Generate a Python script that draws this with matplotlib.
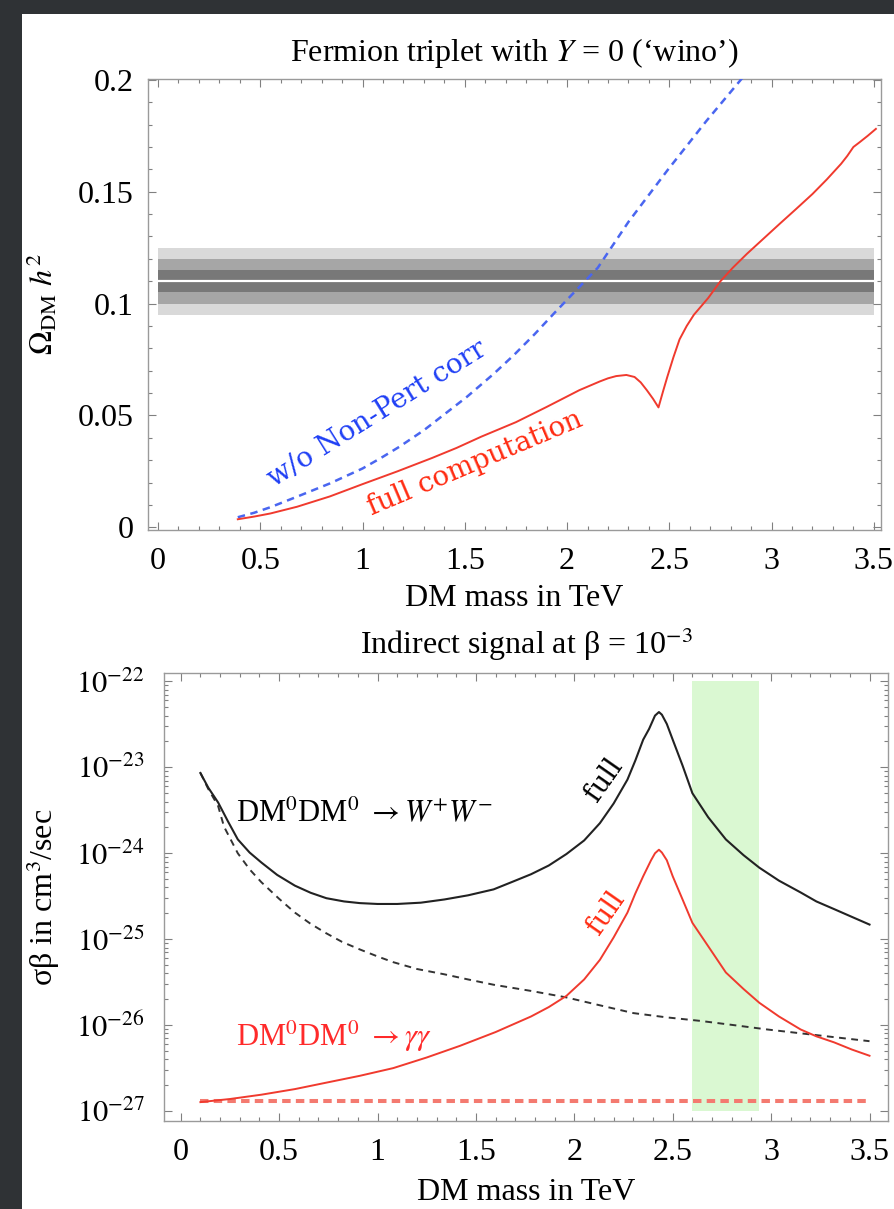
import numpy as np
import matplotlib
matplotlib.use("Agg")
import matplotlib.pyplot as plt
from matplotlib.ticker import FixedLocator, FuncFormatter
from matplotlib.patches import Rectangle

plt.rcParams['font.family'] = ['Liberation Serif', 'DejaVu Serif']
plt.rcParams['mathtext.fontset'] = 'stix'

# ---- top panel: relic abundance ----
blue_mass = [0.39, 0.47, 0.55, 0.68, 0.84, 1.0, 1.09, 1.18, 1.30, 1.40, 1.51, 1.64, 1.74, 1.84,
             1.94, 2.05, 2.15, 2.30, 2.49, 2.68, 2.86]
blue_omega = [0.0045, 0.0065, 0.0090, 0.0137, 0.0196, 0.0263, 0.0310, 0.0360, 0.0434, 0.0505,
              0.0583, 0.0685, 0.0770, 0.0862, 0.0960, 0.1065, 0.1160, 0.1365, 0.1595, 0.1815, 0.2012]

red_mass = [0.39, 0.47, 0.55, 0.68, 0.84, 1.0, 1.17, 1.34, 1.46, 1.58, 1.75, 1.9, 2.06, 2.16, 2.20,
            2.24, 2.29, 2.33, 2.36, 2.39, 2.42, 2.447, 2.47, 2.49, 2.52, 2.55, 2.585, 2.62, 2.69,
            2.75, 2.81, 2.88, 2.96, 3.04, 3.12, 3.2, 3.27, 3.34, 3.37, 3.40, 3.43, 3.47, 3.51]
red_omega = [0.0036, 0.0048, 0.0062, 0.0092, 0.0138, 0.0193, 0.0250, 0.0310, 0.0355, 0.0405,
             0.0470, 0.0538, 0.0613, 0.0652, 0.0666, 0.0676, 0.0681, 0.0672, 0.0648, 0.0613,
             0.0575, 0.0536, 0.0610, 0.0672, 0.0760, 0.0840, 0.0900, 0.0950, 0.1025, 0.1100,
             0.1160, 0.1223, 0.1290, 0.1357, 0.1423, 0.1490, 0.1555, 0.1625, 0.1660, 0.1700,
             0.1721, 0.1750, 0.1781]

omega_central = 0.110
omega_sigma = 0.005
band_range = [0.0, 3.5]

top_xticks = [0, 0.5, 1, 1.5, 2, 2.5, 3, 3.5]
top_yticks = [0, 0.05, 0.1, 0.15, 0.2]

# ---- bottom panel: indirect signal (cm^3/sec) ----
ww_mass = [0.10, 0.14, 0.19, 0.24, 0.29, 0.35, 0.41, 0.49, 0.58, 0.66, 0.74, 0.83, 0.91, 1.0,
           1.10, 1.22, 1.34, 1.46, 1.59, 1.68, 1.78, 1.87, 1.96, 2.05, 2.13, 2.20, 2.27, 2.31,
           2.35, 2.38, 2.41, 2.43, 2.445, 2.47, 2.50, 2.55, 2.60, 2.68, 2.77, 2.86, 2.94, 3.04,
           3.15, 3.23, 3.32, 3.41, 3.50]
ww_full = [8.6e-24, 5.8e-24, 3.9e-24, 2.35e-24, 1.45e-24, 1.02e-24, 7.8e-25, 5.6e-25, 4.2e-25,
           3.47e-25, 3.0e-25, 2.75e-25, 2.63e-25, 2.57e-25, 2.57e-25, 2.66e-25, 2.9e-25, 3.24e-25,
           3.8e-25, 4.6e-25, 5.7e-25, 7.2e-25, 9.8e-25, 1.41e-24, 2.24e-24, 3.8e-24, 7.2e-24,
           1.2e-23, 2.1e-23, 2.8e-23, 4.0e-23, 4.4e-23, 4.1e-23, 3.2e-23, 2.1e-23, 1.05e-23,
           5.0e-24, 2.63e-24, 1.45e-24, 9.5e-25, 6.8e-25, 4.8e-25, 3.5e-25, 2.75e-25, 2.24e-25,
           1.82e-25, 1.48e-25]

ww_pert_mass = [0.10, 0.14, 0.19, 0.22, 0.29, 0.35, 0.41, 0.50, 0.58, 0.66, 0.74, 0.82, 0.91,
                1.0, 1.08, 1.2, 1.34, 1.46, 1.59, 1.78, 1.96, 2.13, 2.30, 2.47, 2.64, 2.81, 2.98,
                3.24, 3.50]
ww_pert = [8.6e-24, 5.6e-24, 3.55e-24, 2.04e-24, 1.0e-24, 6.5e-25, 4.6e-25, 2.95e-25, 2.04e-25,
           1.51e-25, 1.17e-25, 9.3e-26, 7.6e-26, 6.3e-26, 5.4e-26, 4.5e-26, 3.9e-26, 3.4e-26,
           2.95e-26, 2.5e-26, 2.1e-26, 1.7e-26, 1.38e-26, 1.23e-26, 1.12e-26, 1.0e-26, 8.9e-27,
           7.6e-27, 6.5e-27]

gg_mass = [0.10, 0.25, 0.41, 0.58, 0.74, 0.91, 1.08, 1.25, 1.42, 1.60, 1.78, 1.87, 1.96, 2.05,
           2.13, 2.20, 2.27, 2.31, 2.35, 2.39, 2.41, 2.43, 2.445, 2.47, 2.50, 2.55, 2.60, 2.68,
           2.77, 2.86, 2.94, 3.04, 3.15, 3.23, 3.32, 3.41, 3.50]
gg_full = [1.27e-27, 1.38e-27, 1.55e-27, 1.8e-27, 2.14e-27, 2.57e-27, 3.16e-27, 4.2e-27, 5.75e-27,
           8.3e-27, 1.26e-26, 1.62e-26, 2.19e-26, 3.4e-26, 5.75e-26, 1.05e-25, 2.04e-25,
           3.4e-25, 5.4e-25, 8.3e-25, 1.0e-24, 1.1e-24, 1.02e-24, 8.3e-25, 5.4e-25, 2.9e-25,
           1.55e-25, 8.3e-26, 4.1e-26, 2.63e-26, 1.82e-26, 1.26e-26, 8.9e-27, 7.4e-27, 6.3e-27,
           5.2e-27, 4.4e-27]

gg_pert_mass = [0.10, 3.50]
gg_pert = [1.3e-27, 1.3e-27]

green_mass = [2.60, 2.94]
green_lo, green_hi = 1e-27, 1e-22

bottom_decades = [-27, -26, -25, -24, -23, -22]

W, H = 894, 1209
fig = plt.figure(figsize=(W / 100, H / 100), dpi=100, facecolor='#2f3235')
fig.add_artist(Rectangle((22 / W, 0), 1, 1 - 14 / H, transform=fig.transFigure,
                         facecolor='white', edgecolor='none', zorder=-5))

spine_col = '#9a9a9a'


def style_axes(ax):
    for s in ax.spines.values():
        s.set_color(spine_col)
        s.set_linewidth(1.0)
    ax.tick_params(which='both', direction='in', top=True, right=True, color='#808080',
                   labelsize=23, width=0.8)
    ax.tick_params(which='major', length=6)
    ax.tick_params(which='minor', length=3)


fmt = FuncFormatter(lambda v, p: '%g' % round(v, 3))

# top axes
ax1 = fig.add_axes([148 / W, 1 - 530 / H, (881 - 148) / W, (530 - 79) / H])
for k, c in zip([3, 2, 1], ['#d9d9d9', '#a6a6a6', '#787878']):
    ax1.fill_between(band_range, omega_central - k * omega_sigma, omega_central + k * omega_sigma,
                     color=c, lw=0, zorder=1)
ax1.plot(band_range, [omega_central, omega_central], color='white', lw=1.6, zorder=2)
ax1.plot(blue_mass, blue_omega, color='#4a66f0', lw=1.8, dashes=(3, 2.2), zorder=3)
ax1.plot(red_mass, red_omega, color='#f03a2e', lw=1.4, zorder=4)
ax1.set_xlim(-0.049, 3.535)
ax1.set_ylim(-0.0012, 0.2004)
style_axes(ax1)
ax1.tick_params(axis='x', pad=12)
ax1.tick_params(axis='y', pad=10)
ax1.xaxis.set_major_locator(FixedLocator(top_xticks))
ax1.xaxis.set_minor_locator(FixedLocator(np.arange(0, 36) / 10))
ax1.yaxis.set_major_locator(FixedLocator(top_yticks))
ax1.yaxis.set_minor_locator(FixedLocator(np.arange(0, 21) / 100))
ax1.xaxis.set_major_formatter(fmt)
ax1.yaxis.set_major_formatter(fmt)
ax1.set_title("Fermion triplet with $Y$ = 0 (\u2018wino\u2019)", fontsize=23, pad=13)
ax1.set_xlabel('DM mass in TeV', fontsize=23, labelpad=6)
ax1.set_ylabel(r'$\Omega_{\rm DM}\ h^2$', fontsize=23)
ax1.yaxis.set_label_coords(-0.12, 0.5)
ax1.text(1.073, 0.0506, 'w/o Non-Pert corr', color='#1f3ff5', fontsize=20, family='DejaVu Serif',
         rotation=32, ha='center', va='center', rotation_mode='anchor', zorder=5)
ax1.text(1.548, 0.0285, 'full computation', color='#ff2a10', fontsize=20, family='DejaVu Serif',
         rotation=23, ha='center', va='center', rotation_mode='anchor', zorder=5)

# bottom axes
ax2 = fig.add_axes([164 / W, 1 - 1121 / H, (888 - 164) / W, (1121 - 673) / H])
ax2.set_yscale('log')
ax2.fill_between(green_mass, green_lo, green_hi, color='#daf8d2', lw=0, zorder=1)
ax2.plot(gg_pert_mass, gg_pert, color='#f47a70', lw=2.9, dashes=(2.1, 1.3), zorder=2)
ax2.plot(ww_pert_mass, ww_pert, color='#333333', lw=1.4, dashes=(3.5, 2.8), zorder=3)
ax2.plot(ww_mass, ww_full, color='#222222', lw=1.5, zorder=4)
ax2.plot(gg_mass, gg_full, color='#f03a2e', lw=1.4, zorder=4)
ax2.set_xlim(-0.085, 3.594)
ax2.set_ylim(10 ** -27.116, 10 ** -21.902)
style_axes(ax2)
ax2.tick_params(axis='x', pad=12)
ax2.tick_params(axis='y', pad=14, labelsize=22)
ax2.xaxis.set_major_locator(FixedLocator(top_xticks))
ax2.xaxis.set_minor_locator(FixedLocator(np.arange(0, 36) / 10))
ax2.xaxis.set_major_formatter(fmt)
ax2.yaxis.set_major_locator(FixedLocator([10.0 ** d for d in bottom_decades]))
ax2.yaxis.set_minor_locator(FixedLocator([m * 10.0 ** d for d in bottom_decades[:-1]
                                          for m in range(2, 10)]))
ax2.yaxis.set_major_formatter(FuncFormatter(lambda v, p: r'$10^{%d}$' % round(np.log10(v))))
ax2.yaxis.set_minor_formatter(FuncFormatter(lambda v, p: ''))
ax2.set_title('Indirect signal at \u03b2 = 10$^{-3}$', fontsize=23, pad=14)
ax2.set_xlabel('DM mass in TeV', fontsize=23, labelpad=8)
ax2.set_ylabel('\u03c3\u03b2 in cm$^3$/sec', fontsize=23)
ax2.yaxis.set_label_coords(-0.141, 0.5)
ax2.text(0.279, 2.9e-24, r'DM$^0$DM$^0$ $\rightarrow W^{+}W^{-}$', fontsize=22,
         ha='left', va='center', zorder=5)
ax2.text(0.279, 7.4e-27, r'DM$^0$DM$^0$ $\rightarrow\gamma\gamma$', fontsize=22, color='#ff2a2a',
         ha='left', va='center', zorder=5)
ax2.text(2.151, 7.2e-24, 'full', fontsize=20, family='DejaVu Serif', rotation=55,
         ha='center', va='center', rotation_mode='anchor', zorder=5)
ax2.text(2.161, 2.0e-25, 'full', fontsize=20, family='DejaVu Serif', color='#ff2a10', rotation=55,
         ha='center', va='center', rotation_mode='anchor', zorder=5)

fig.savefig('out.png', dpi=100, facecolor=fig.get_facecolor())
